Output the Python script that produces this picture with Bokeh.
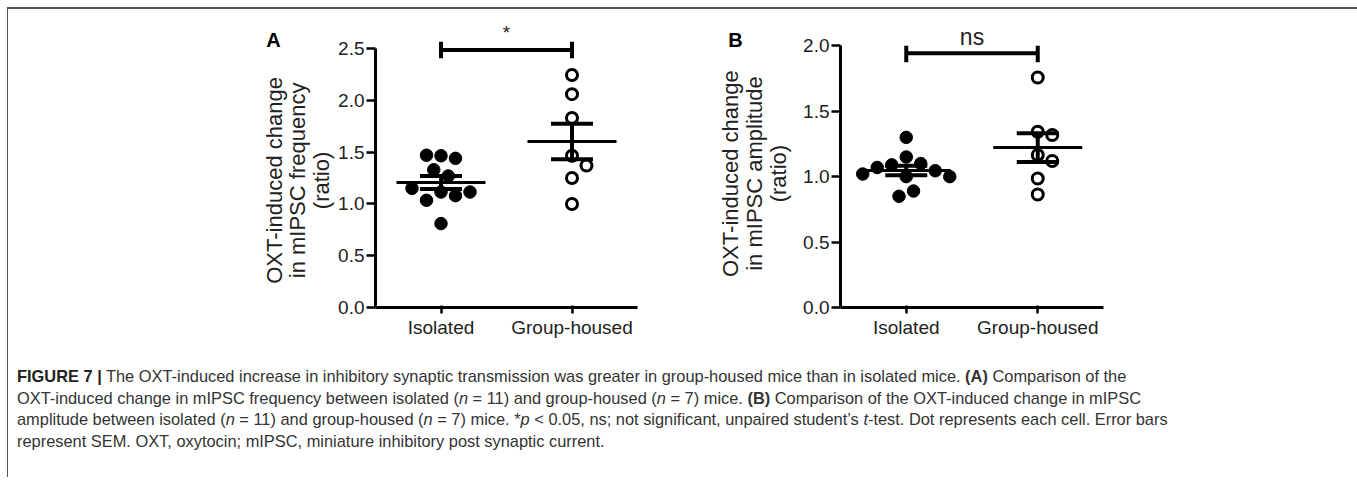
import math
import numpy as np
from bokeh.plotting import figure
from bokeh.models import Range1d, FixedTicker, NumeralTickFormatter, Div
from bokeh.layouts import column, row
from bokeh.embed import file_html
from bokeh.resources import INLINE
from bokeh.core.properties import value

# ---------------- data ----------------
categories = ["Isolated", "Group-housed"]

freq_isolated = [1.465, 1.44, 1.47, 1.33, 1.27, 1.115, 1.08, 1.035, 1.115, 1.15, 0.81]
freq_group = [2.245, 2.06, 1.83, 1.465, 1.37, 1.25, 1.00]

amp_isolated = [1.30, 1.15, 1.10, 1.09, 1.045, 1.07, 1.00, 1.00, 1.02, 0.89, 0.85]
amp_group = [1.757, 1.343, 1.318, 1.165, 1.119, 0.986, 0.864]

freq_ticks = [0.0, 0.5, 1.0, 1.5, 2.0, 2.5]
amp_ticks = [0.0, 0.5, 1.0, 1.5, 2.0]

sig_labels = ["*", "ns"]

ylabel_A = ["OXT-induced change", "in mIPSC frequency", "(ratio)"]
ylabel_B = ["OXT-induced change", "in mIPSC amplitude", "(ratio)"]

FONT = "Liberation Sans"
TXT = "#222222"
FIG_H = 340


def swarm(vals, px_x, px_y, d=14.5):
    """simple beeswarm offsets (x data units) so markers do not overlap"""
    placed = []
    offs = []
    step = d / 2.0
    cands = [0.0]
    for k in range(1, 12):
        cands += [k * step, -k * step]
    for v in vals:
        py = v * px_y
        for c in cands:
            if all((c - ox) ** 2 + (py - oy) ** 2 >= d * d for ox, oy in placed):
                placed.append((c, py))
                offs.append(c / px_x)
                break
    return offs


def mean_sem(vals):
    a = np.array(vals, dtype=float)
    return float(a.mean()), float(a.std(ddof=1) / math.sqrt(len(a)))


def label_fig(width, letter, letter_xy, lines, center_xy, spacing):
    """left-hand strip holding the panel letter and the rotated y-axis title"""
    p = figure(width=width, height=FIG_H, x_range=Range1d(0, width),
               y_range=Range1d(0, FIG_H), output_backend="svg",
               toolbar_location=None, min_border=0,
               x_axis_location=None, y_axis_location=None)
    p.grid.visible = False
    p.outline_line_color = None
    p.text(x=[letter_xy[0]], y=[FIG_H - letter_xy[1]], text=[letter],
           text_align="center", text_baseline="middle", text_font=value(FONT),
           text_font_size="20px", text_font_style="bold", text_color="black")
    n = len(lines)
    xs = [center_xy[0] + (i - (n - 1) / 2.0) * spacing for i in range(n)]
    p.text(x=xs, y=[FIG_H - center_xy[1]] * n, text=lines, angle=math.pi / 2,
           text_align="center", text_baseline="middle", text_font=value(FONT),
           text_font_size="22px", text_color=TXT)
    return p


def panel(iso, grp, ticks, ymax, frame_h, frame_w, left, right, top,
          sig, bracket_y, bracket_lo, bracket_hi, sig_y, sig_size):
    bottom = FIG_H - top - frame_h
    w = left + frame_w + right
    p = figure(width=w, height=FIG_H, x_range=Range1d(0, 2), y_range=Range1d(0, ymax),
               output_backend="svg", toolbar_location=None,
               min_border_left=left, min_border_right=right,
               min_border_top=top, min_border_bottom=bottom)
    p.grid.visible = False
    p.outline_line_color = None

    px_x = frame_w / 2.0
    px_y = frame_h / ymax
    centers = [0.5, 1.5]

    # axes
    p.xaxis.ticker = FixedTicker(ticks=centers)
    p.xaxis.major_label_overrides = {0.5: categories[0], 1.5: categories[1]}
    p.xaxis.major_tick_line_color = None
    p.xaxis.minor_tick_line_color = None
    p.xaxis.major_label_standoff = 3
    p.yaxis.ticker = FixedTicker(ticks=ticks)
    p.yaxis.formatter = NumeralTickFormatter(format="0.0")
    p.yaxis.bounds = (ticks[0], ticks[-1])
    p.yaxis.minor_tick_line_color = None
    p.yaxis.major_tick_in = 0
    p.yaxis.major_tick_out = 9
    p.yaxis.major_label_standoff = 2
    for ax in (p.xaxis, p.yaxis):
        ax.axis_line_width = 3
        ax.axis_line_color = "black"
        ax.major_tick_line_width = 2.5
        ax.major_tick_line_color = "black"
        ax.major_label_text_font = FONT
        ax.major_label_text_font_size = "19px"
        ax.major_label_text_color = TXT

    # individual cells
    ox_i = swarm(iso, px_x, px_y)
    ox_g = swarm(grp, px_x, px_y)
    p.scatter([centers[0] + o for o in ox_i], iso, size=12.5, marker="circle",
              fill_color="black", line_color="black", line_width=1)
    p.scatter([centers[1] + o for o in ox_g], grp, size=11, marker="circle",
              fill_color="white", line_color="black", line_width=3)

    # mean and SEM
    mhalf = 44.5 / px_x
    shalf = 21.0 / px_x
    for c, vals in zip(centers, (iso, grp)):
        m, s = mean_sem(vals)
        p.segment(x0=[c - mhalf], y0=[m], x1=[c + mhalf], y1=[m],
                  line_color="black", line_width=3)
        p.segment(x0=[c - shalf, c - shalf, c], y0=[m + s, m - s, m - s],
                  x1=[c + shalf, c + shalf, c], y1=[m + s, m - s, m + s],
                  line_color="black", line_width=4)

    # significance bracket
    p.segment(x0=[centers[0], centers[0], centers[1]],
              y0=[bracket_y, bracket_lo, bracket_lo],
              x1=[centers[1], centers[0], centers[1]],
              y1=[bracket_y, bracket_hi, bracket_hi],
              line_color="black", line_width=4)
    p.text(x=[1.0], y=[sig_y], text=[sig], text_align="center",
           text_baseline="alphabetic", text_font=value(FONT),
           text_font_size=sig_size, text_color=TXT)
    return p


# page layout: content starts at page x=8, y=9
labA = label_fig(327, "A", (265, 26), ylabel_A, (289, 191), 23.5)
pA = panel(freq_isolated, freq_group, freq_ticks, 2.8, 294, 262,
           40, 63, 8, sig_labels[0], 2.486, 2.406, 2.565, 2.66, "19px")
labB = label_fig(100, "B", (35, 26), ylabel_B, (54, 183), 24)
pB = panel(amp_isolated, amp_group, amp_ticks, 2.216, 290, 263,
           40, 249, 8, sig_labels[1], 1.943, 1.875, 2.0, 2.07, "23px")

caption_html = (
    '<div style="font-family:\'Liberation Sans\', Arial, sans-serif; font-size:16.4px; '
    'line-height:21.5px; color:#333; padding:12px 0 0 4px; white-space:nowrap;">'
    '<b style="color:#222">FIGURE 7 |</b> The OXT-induced increase in inhibitory synaptic transmission '
    'was greater in group-housed mice than in isolated mice. <b>(A)</b> Comparison of the<br>'
    'OXT-induced change in mIPSC frequency between isolated (<i>n</i> = 11) and group-housed '
    '(<i>n</i> = 7) mice. <b>(B)</b> Comparison of the OXT-induced change in mIPSC<br>'
    'amplitude between isolated (<i>n</i> = 11) and group-housed (<i>n</i> = 7) mice. '
    '*<i>p</i> &lt; 0.05, ns; not significant, unpaired student\u2019s <i>t</i>-test. '
    'Dot represents each cell. Error bars<br>'
    'represent SEM. OXT, oxytocin; mIPSC, miniature inhibitory post synaptic current.'
    '</div>'
)
cap = Div(text=caption_html, width=1344, height=118)

layout = column(row(labA, pA, labB, pB), cap,
                styles={"margin": "7px 0 0 7px",
                        "border-top": "2px solid #555", "border-left": "1px solid #555",
                        "border-right": "1px solid #555"})

open("out.html", "w").write(file_html(layout, INLINE))
